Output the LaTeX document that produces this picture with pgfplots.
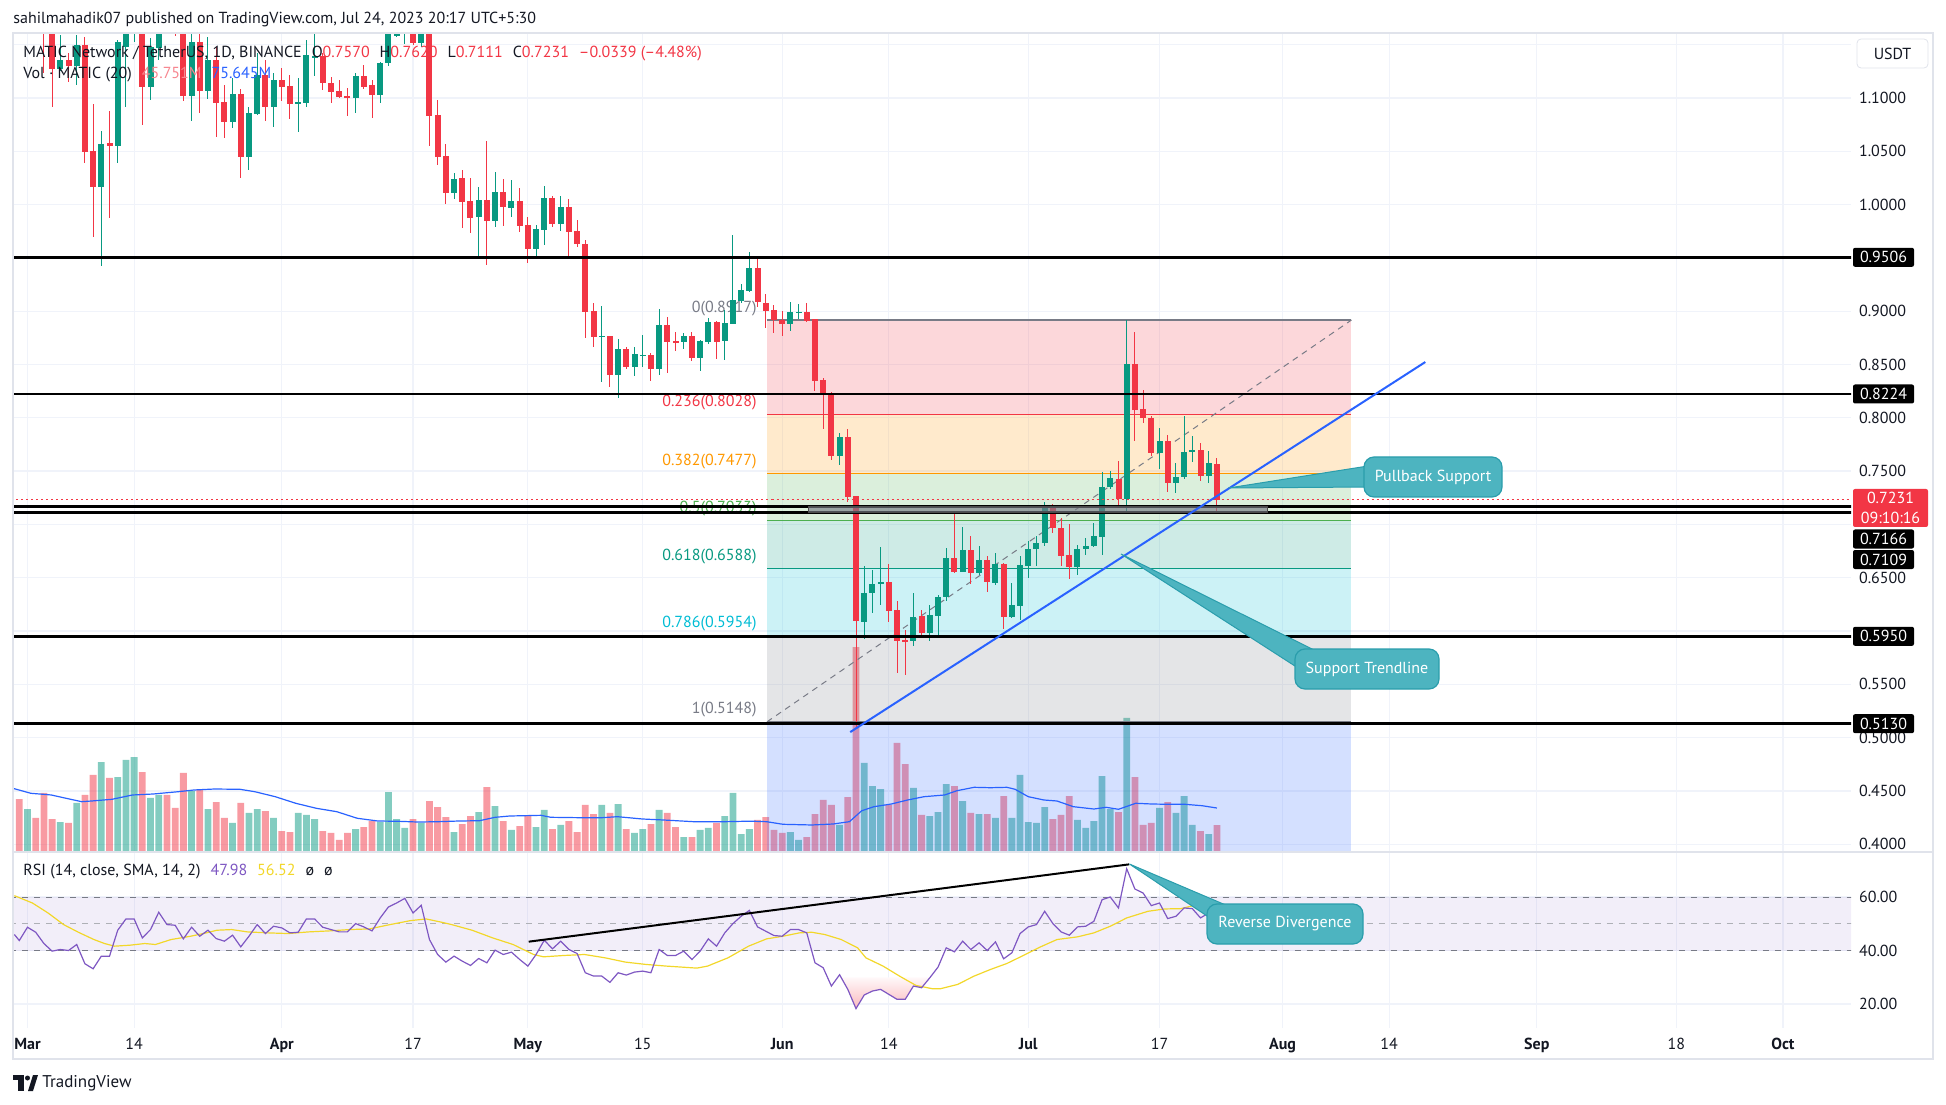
\documentclass[border=0pt]{standalone}
\usepackage{fontspec}
\setmainfont{PT Sans}
\usepackage{pgfplots}
\pgfplotsset{compat=1.18}
\usepackage{pgfplotstable}

\definecolor{upc}{HTML}{089981}
\definecolor{dnc}{HTML}{F23645}
\definecolor{txt}{HTML}{131722}
\definecolor{gridc}{HTML}{F0F3FA}
\definecolor{framec}{HTML}{E0E3EB}
\definecolor{tvblue}{HTML}{2962FF}
\definecolor{fibgray}{HTML}{787B86}
\definecolor{fiborange}{HTML}{FF9800}
\definecolor{fibgreen}{HTML}{4CAF50}
\definecolor{fibcyan}{HTML}{00BCD4}
\definecolor{rsic}{HTML}{7E57C2}
\definecolor{rsima}{HTML}{F2D72A}
\definecolor{callc}{HTML}{4DB4C0}
\definecolor{calld}{HTML}{2A9DAC}

\newcommand\tvf{\fontsize{8}{9.6}\selectfont}

% daily candles, d = days since 1 Mar 2023, v = volume (M)
\pgfplotstableread{
d o h l c v
-1 1.25 1.27 1.21 1.23 91.5
0 1.20 1.24 1.18 1.22 73.9
1 1.22 1.23 1.175 1.19 58.1
2 1.19 1.20 1.1231 1.168 102.1
3 1.172 1.178 1.0918 1.1269 56.3
4 1.1269 1.159 1.125 1.1356 51.0
5 1.1356 1.1419 1.1153 1.1303 49.3
6 1.1303 1.159 1.1122 1.1497 84.5
7 1.1497 1.157 1.0387 1.0496 98.6
8 1.0502 1.0943 0.9699 1.0168 133.8
9 1.0168 1.069 0.9427 1.0568 156.6
10 1.0574 1.0878 0.9871 1.0552 128.5
11 1.0552 1.1544 1.0387 1.1528 130.2
12 1.1481 1.18 1.0918 1.165 160.2
13 1.17 1.20 1.1528 1.19 165.4
14 1.17 1.19 1.0746 1.1106 139.0
15 1.1106 1.156 1.0981 1.1481 93.3
16 1.1472 1.18 1.1356 1.165 98.6
17 1.19 1.20 1.165 1.175 98.6
18 1.19 1.20 1.158 1.17 75.7
19 1.17 1.18 1.0975 1.1022 137.3
20 1.1022 1.165 1.0787 1.1522 105.6
21 1.1528 1.165 1.0862 1.1068 109.1
22 1.1065 1.157 1.099 1.1356 73.9
23 1.1356 1.148 1.063 1.0956 86.2
24 1.0965 1.1122 1.0621 1.0778 58.1
25 1.0778 1.1184 1.0721 1.1037 49.3
26 1.1037 1.1081 1.0252 1.0449 84.5
27 1.0449 1.0918 1.0324 1.0856 66.9
28 1.085 1.1419 1.084 1.1215 73.9
29 1.1215 1.1356 1.0787 1.0918 70.4
30 1.0918 1.1231 1.0731 1.1169 58.1
31 1.1169 1.1278 1.0975 1.1106 35.2
32 1.1112 1.1215 1.0803 1.0943 33.4
33 1.095 1.1187 1.0684 1.0962 66.9
34 1.0956 1.1544 1.0918 1.1403 63.4
35 1.1381 1.165 1.1206 1.1394 56.3
36 1.1394 1.1419 1.1075 1.1137 35.2
37 1.1137 1.1194 1.0956 1.1059 31.7
38 1.1065 1.1169 1.0997 1.1012 19.4
39 1.1018 1.109 1.083 1.1006 31.7
40 1.1003 1.1231 1.0862 1.1206 38.7
41 1.1206 1.1309 1.1081 1.11 42.2
42 1.1122 1.1169 1.0809 1.1028 52.8
43 1.1028 1.134 1.0956 1.1325 51.0
44 1.1325 1.18 1.13 1.165 103.8
45 1.158 1.19 1.157 1.175 56.3
46 1.17 1.19 1.151 1.18 40.5
47 1.175 1.19 1.15 1.152 56.3
48 1.152 1.18 1.148 1.17 49.3
49 1.17 1.18 1.0552 1.0834 88.0
50 1.084 1.0981 1.0371 1.0449 77.4
51 1.0456 1.0568 1.0002 1.0112 59.8
52 1.0112 1.0293 1.0055 1.024 33.4
53 1.0246 1.0324 0.9783 1.0027 47.5
54 1.0033 1.0252 0.973 0.9877 61.6
55 0.9886 1.0168 0.9505 1.0043 68.6
56 1.0043 1.0596 0.9433 0.9849 112.6
57 0.9849 1.0309 0.9793 1.0121 79.2
58 1.0121 1.024 0.9799 0.998 52.8
59 0.9971 1.0231 0.9887 1.0034 37.0
60 1.0034 1.0159 0.9746 0.9799 44.0
61 0.9808 0.9887 0.9455 0.9583 61.6
62 0.9583 0.9808 0.9511 0.9771 42.2
63 0.9762 1.0177 0.9621 1.0065 72.2
64 1.0065 1.0084 0.9793 0.9818 38.7
65 0.9818 1.0084 0.9752 0.998 45.8
66 0.998 1.0052 0.9502 0.9746 52.8
67 0.9752 0.9855 0.9605 0.9627 33.4
68 0.9627 0.9668 0.8745 0.8995 81.0
69 0.9001 0.9074 0.8667 0.8761 65.1
70 0.8761 0.9052 0.8339 0.877 81.0
71 0.877 0.877 0.8292 0.8401 66.9
72 0.8401 0.8739 0.8182 0.8645 82.7
73 0.8645 0.8667 0.846 0.8479 38.7
74 0.8479 0.8667 0.8395 0.8598 31.7
75 0.8583 0.8777 0.8479 0.8589 38.7
76 0.8589 0.8605 0.8348 0.8454 47.5
77 0.8454 0.902 0.8401 0.887 72.2
78 0.887 0.8948 0.8423 0.8714 66.9
79 0.872 0.8808 0.863 0.8711 42.2
80 0.8714 0.8792 0.8645 0.8767 24.6
81 0.8767 0.8802 0.8536 0.8564 24.6
82 0.8564 0.873 0.8442 0.872 37.0
83 0.8714 0.8939 0.8692 0.8902 40.5
84 0.8902 0.8908 0.8551 0.8714 49.3
85 0.872 0.9011 0.8542 0.8886 61.6
86 0.888 0.9715 0.888 0.9105 102.1
87 0.9099 0.9255 0.9074 0.9199 29.9
88 0.9192 0.9558 0.9183 0.9408 38.7
89 0.9408 0.9502 0.9042 0.9083 54.6
90 0.908 0.9162 0.884 0.9005 59.8
91 0.9012 0.9058 0.8793 0.8918 37.0
92 0.8918 0.9002 0.8771 0.8883 31.7
93 0.8883 0.9083 0.8818 0.899 33.4
94 0.8987 0.9068 0.8927 0.8993 19.4
95 0.899 0.9074 0.8902 0.8908 24.6
96 0.8927 0.8927 0.8255 0.8349 65.1
97 0.8355 0.8371 0.7895 0.8224 89.8
98 0.823 0.8239 0.7604 0.7645 81.0
99 0.7645 0.7855 0.7557 0.7817 45.8
100 0.7817 0.7895 0.7213 0.726 95.0
101 0.7267 0.7267 0.5103 0.6097 359.0
102 0.6088 0.6613 0.5922 0.6354 154.9
103 0.6354 0.6572 0.6172 0.6441 114.4
104 0.6438 0.6791 0.6244 0.6457 109.1
105 0.6457 0.6629 0.6088 0.6191 81.0
106 0.6197 0.6282 0.5609 0.591 190.1
107 0.5916 0.601 0.5587 0.59 153.1
108 0.591 0.6354 0.5863 0.6135 110.9
109 0.6144 0.6197 0.5953 0.5978 63.4
110 0.5978 0.6244 0.591 0.615 61.6
111 0.6144 0.6338 0.5931 0.6316 68.6
112 0.6316 0.6776 0.6285 0.6682 117.9
113 0.6682 0.7119 0.6541 0.6557 114.4
114 0.6557 0.6973 0.6557 0.676 88.0
115 0.676 0.6891 0.6441 0.6541 66.9
116 0.6541 0.6801 0.6526 0.6666 65.1
117 0.6666 0.6707 0.6369 0.6457 65.1
118 0.6454 0.6729 0.6432 0.6629 58.1
119 0.6629 0.6641 0.6016 0.6135 96.8
120 0.6135 0.6454 0.6119 0.6244 58.1
121 0.6238 0.6704 0.6103 0.662 133.8
122 0.6613 0.6848 0.6494 0.6766 51.0
123 0.6766 0.6891 0.6613 0.6823 49.3
124 0.6823 0.7213 0.6801 0.7151 77.4
125 0.7151 0.7188 0.6916 0.6963 56.3
126 0.6963 0.7057 0.6613 0.6707 63.4
127 0.6713 0.7004 0.6485 0.6604 96.8
128 0.6604 0.6807 0.6526 0.677 54.6
129 0.6766 0.6876 0.6713 0.6801 40.5
130 0.6801 0.701 0.6791 0.6891 52.8
131 0.6885 0.7489 0.6713 0.7348 132.0
132 0.7348 0.7501 0.7329 0.7432 73.9
133 0.7423 0.7598 0.7151 0.7235 68.6
134 0.7235 0.8918 0.7129 0.8505 234.1
135 0.8505 0.8808 0.7786 0.8073 130.2
136 0.8083 0.8261 0.7955 0.7995 45.8
137 0.8002 0.8017 0.7645 0.7673 49.3
138 0.7673 0.7908 0.7517 0.7783 75.7
139 0.7783 0.7839 0.7307 0.7386 86.2
140 0.7386 0.7579 0.7292 0.7448 66.9
141 0.7442 0.802 0.7426 0.7676 96.8
142 0.7676 0.783 0.7589 0.7698 45.8
143 0.7698 0.7761 0.7407 0.7457 35.2
144 0.7457 0.7689 0.7392 0.7579 29.9
145 0.7570 0.7620 0.7111 0.7231 45.751
}\mat

% volume 20-day average (M)
\pgfplotstableread{
d m
-1.8 110.4
0.4 101.6
2.9 98.6
4.7 92.8
6.6 86.8
7.8 88.0
10.3 91.0
12.8 98.6
15.3 100.3
18.4 104.4
20.3 107.4
22.8 109.1
25.9 108.6
27.7 104.4
30.2 95.6
32.7 84.0
35.2 75.2
37.7 69.2
40.2 57.6
42.7 52.8
45.2 52.3
47.6 51.0
50.1 51.6
52.6 52.8
55.1 53.3
57.0 59.3
58.8 61.6
62.6 62.8
63.8 59.3
67.5 58.6
70.0 58.6
71.9 60.4
75.0 56.3
77.5 54.6
81.2 51.6
85.0 51.6
88.1 52.5
90.1 51.6
92.1 47.0
95.6 45.8
98.2 47.5
100.2 51.6
101.7 70.9
103.2 78.0
105.3 82.7
107.3 89.8
109.3 95.6
111.8 98.6
113.3 106.1
115.4 112.1
117.4 111.4
119.4 112.1
120.4 108.6
122.0 95.6
123.9 89.8
125.5 88.0
127.5 78.0
130.0 73.9
131.5 76.9
133.0 73.4
135.1 84.0
137.1 82.7
139.1 82.2
141.1 82.2
143.2 79.7
145.0 75.645
}\volma

% RSI(14)
\pgfplotstableread{
d r
-1.6 45.97
-1 43.73
0 48.7
1 46.83
2 42.61
3 39.76
4 40.38
5 40.0
6 42.24
7 35.04
8 33.17
9 37.89
10 37.89
11 47.58
12 51.8
13 51.8
14 44.72
15 47.83
16 54.29
17 49.69
18 49.44
19 44.35
20 48.7
21 45.34
22 47.58
23 44.47
24 43.48
25 45.72
26 41.37
27 45.34
28 49.69
29 46.34
30 49.07
31 48.45
32 46.59
33 46.83
34 51.8
35 51.8
36 48.7
37 47.83
38 46.96
39 46.96
40 50.06
41 48.82
42 47.33
43 52.18
44 56.27
45 57.76
46 59.5
47 54.04
48 56.9
49 44.1
50 38.51
51 35.66
52 37.89
53 36.03
54 34.41
55 37.02
56 35.41
57 40.13
58 38.51
59 39.38
60 36.65
61 34.17
62 38.51
63 43.85
64 40.62
65 43.48
66 40.38
67 38.89
68 31.68
69 30.45
70 30.45
71 28.09
72 31.68
73 30.82
74 31.93
75 32.3
76 31.69
77 40.38
78 38.14
79 38.14
80 39.76
81 36.65
82 39.76
83 44.35
84 41.62
85 46.59
86 50.06
87 52.8
88 55.0
89 48.82
90 47.21
91 45.59
92 45.34
93 47.83
94 47.83
95 46.59
96 35.41
97 33.55
98 26.71
99 30.94
100 25.47
101 18.27
102 23.36
103 24.85
104 25.47
105 23.61
106 21.75
107 21.75
108 26.71
109 26.09
110 29.82
111 33.79
112 41.0
113 39.51
114 43.48
115 40.38
116 42.86
117 40.0
118 43.23
119 36.9
120 39.13
121 46.34
122 48.82
123 49.69
124 54.66
125 50.06
126 46.96
127 45.72
128 48.82
129 49.07
130 50.93
131 59.0
132 60.0
133 55.9
134 70.56
135 62.98
136 61.49
137 56.77
138 57.76
139 51.93
140 52.8
141 55.9
142 55.65
143 52.18
144 54.04
145 47.98
}\rsi

% RSI-based moving average
\pgfplotstableread{
d m
-1.6 60.5
0.6 57.76
2.5 54.04
4.4 49.69
6.2 46.83
8.1 44.1
9.4 42.61
10.6 41.62
12.5 41.99
14.3 42.61
15.6 42.24
17.5 44.1
19.9 45.34
21.8 46.59
23.1 47.58
24.9 47.83
26.8 46.96
29.3 46.59
31.8 46.34
34.3 46.96
36.8 47.33
39.3 47.83
41.7 48.08
44.2 49.69
46.7 51.18
48.6 51.8
50.5 50.56
51.7 49.69
54.2 47.58
56.7 44.72
59.2 42.24
61.7 38.51
62.9 37.64
65.4 38.14
67.9 38.51
70.4 37.27
72.9 35.66
75.4 34.79
77.9 34.17
81.6 33.42
82.9 34.17
85.4 37.27
87.9 41.62
90.1 44.35
92.1 45.34
94.1 46.59
95.6 46.83
97.2 45.97
99.2 44.1
101.2 41.0
102.2 37.27
104.3 34.17
106.3 30.44
108.3 26.96
110.3 25.72
111.3 25.72
113.4 27.33
115.4 30.44
117.4 32.92
119.4 35.16
121.4 38.14
123.5 41.37
125.5 44.1
128.0 45.1
130.0 46.59
132.0 49.07
134.0 52.18
136.6 54.66
138.6 55.53
140.6 55.65
142.6 57.14
144.2 57.52
145.0 56.52
}\rsima

\begin{document}
\begin{tikzpicture}
\path[use as bounding box] (0,0) rectangle (973pt,552pt);
\pgfplotsset{chart/.style={scale only axis, width=919.15pt, xmin=-1.804, xmax=222.3, anchor=south west},
  pane/.style={chart, at={(6.35pt,126.5pt)}, height=408.5pt},
  candle/.style={draw=none, mark=none, forget plot}}

% grid and price scale
\begin{axis}[pane, ymin=0.39362, ymax=1.16004,
  axis line style={draw=none}, major tick length=0pt,
  xtick={0,13,31,47,61,75,92,105,122,138,153,166,184,201,214}, xticklabels={},
  ytick={0.4,0.45,0.5,0.55,0.6,0.65,0.7,0.75,0.8,0.85,0.9,0.95,1.0,1.05,1.1,1.15},
  yticklabels={0.4000,0.4500,0.5000,0.5500,{},0.6500,{},0.7500,0.8000,0.8500,0.9000,{},1.0000,1.0500,1.1000,{}},
  yticklabel pos=right, yticklabel style={font=\tvf, text=txt, xshift=0.5pt},
  grid=major, grid style={gridc, line width=0.6pt}]
\addplot[draw=none, mark=none, forget plot] table[x=d, y=c] {\mat};
\end{axis}

% volume
\begin{axis}[pane, ymin=0, ymax=1437.9, hide axis]
\addplot[ybar, bar width=3.4pt, draw=none, fill=upc, fill opacity=0.5,
  restrict expr to domain={\thisrow{c}-\thisrow{o}}{0:10}] table[x=d, y=v] {\mat};
\addplot[ybar, bar width=3.4pt, draw=none, fill=dnc, fill opacity=0.5,
  restrict expr to domain={\thisrow{c}-\thisrow{o}}{-10:-0.00001}] table[x=d, y=v] {\mat};
\addplot[tvblue, line width=0.6pt, mark=none] table[x=d, y=m] {\volma};
\end{axis}

% price
\begin{axis}[pane, ymin=0.39362, ymax=1.16004, hide axis]
% fib retracement zones
\fill[dnc, fill opacity=0.2] (axis cs:90.15,0.8917) rectangle (axis cs:161.4,0.8028);
\fill[fiborange, fill opacity=0.2] (axis cs:90.15,0.8028) rectangle (axis cs:161.4,0.7477);
\fill[fibgreen, fill opacity=0.2] (axis cs:90.15,0.7477) rectangle (axis cs:161.4,0.7033);
\fill[upc, fill opacity=0.2] (axis cs:90.15,0.7033) rectangle (axis cs:161.4,0.6588);
\fill[fibcyan, fill opacity=0.2] (axis cs:90.15,0.6588) rectangle (axis cs:161.4,0.5954);
\fill[fibgray, fill opacity=0.2] (axis cs:90.15,0.5954) rectangle (axis cs:161.4,0.5148);
\fill[tvblue, fill opacity=0.2] (axis cs:90.15,0.5148) rectangle (axis cs:161.4,0.30);
\addplot[fibgray, line width=0.6pt] coordinates {(90.15,0.8917) (161.4,0.8917)};
\addplot[dnc, line width=0.6pt] coordinates {(90.15,0.8028) (161.4,0.8028)};
\addplot[fiborange, line width=0.6pt] coordinates {(90.15,0.7477) (161.4,0.7477)};
\addplot[fibgreen, line width=0.6pt] coordinates {(90.15,0.7033) (161.4,0.7033)};
\addplot[upc, line width=0.6pt] coordinates {(90.15,0.6588) (161.4,0.6588)};
\addplot[fibcyan, line width=0.6pt] coordinates {(90.15,0.5954) (161.4,0.5954)};
\addplot[fibgray, line width=0.6pt] coordinates {(90.15,0.5148) (161.4,0.5148)};
\addplot[fibgray, line width=0.5pt, dash pattern=on 3pt off 2.5pt] coordinates {(90.15,0.5148) (161.4,0.8917)};
\begin{scope}[every node/.style={anchor=south east, inner sep=0pt, font=\tvf, yshift=2pt}]
\node[text=fibgray] at (axis cs:88.93,0.8917) {0(0.8917)};
\node[text=dnc] at (axis cs:88.93,0.8028) {0.236(0.8028)};
\node[text=fiborange] at (axis cs:88.93,0.7477) {0.382(0.7477)};
\node[text=fibgreen] at (axis cs:88.93,0.7033) {0.5(0.7033)};
\node[text=upc] at (axis cs:88.93,0.6588) {0.618(0.6588)};
\node[text=fibcyan] at (axis cs:88.93,0.5954) {0.786(0.5954)};
\node[text=fibgray] at (axis cs:88.93,0.5148) {1(0.5148)};
\end{scope}
% candles: wicks, then bodies
\addplot[candle, restrict expr to domain={\thisrow{c}-\thisrow{o}}{0:10},
  error bars/.cd, y dir=both, y explicit, error mark=none, error bar style={draw=upc, line width=0.5pt}]
  table[x=d, y expr={(\thisrow{h}+\thisrow{l})/2}, y error expr={(\thisrow{h}-\thisrow{l})/2}] {\mat};
\addplot[candle, restrict expr to domain={\thisrow{c}-\thisrow{o}}{-10:-0.00001},
  error bars/.cd, y dir=both, y explicit, error mark=none, error bar style={draw=dnc, line width=0.5pt}]
  table[x=d, y expr={(\thisrow{h}+\thisrow{l})/2}, y error expr={(\thisrow{h}-\thisrow{l})/2}] {\mat};
\addplot[candle, restrict expr to domain={\thisrow{c}-\thisrow{o}}{0:10},
  error bars/.cd, y dir=both, y explicit, error mark=none, error bar style={draw=upc, line width=3pt}]
  table[x=d, y expr={(\thisrow{o}+\thisrow{c})/2}, y error expr={max(abs(\thisrow{c}-\thisrow{o})/2,0.0006)}] {\mat};
\addplot[candle, restrict expr to domain={\thisrow{c}-\thisrow{o}}{-10:-0.00001},
  error bars/.cd, y dir=both, y explicit, error mark=none, error bar style={draw=dnc, line width=3pt}]
  table[x=d, y expr={(\thisrow{o}+\thisrow{c})/2}, y error expr={max(abs(\thisrow{c}-\thisrow{o})/2,0.0006)}] {\mat};
% levels and trendline
\addplot[dnc, line width=0.5pt, dash pattern=on 1pt off 1.5pt] coordinates {(-5,0.7231) (230,0.7231)};
\addplot[black, line width=1.3pt] coordinates {(-5,0.9506) (230,0.9506)};
\addplot[black, line width=1.3pt] coordinates {(-5,0.8224) (230,0.8224)};
\addplot[black, line width=1.3pt] coordinates {(-5,0.7166) (230,0.7166)};
\addplot[black, line width=1.3pt] coordinates {(-5,0.7109) (230,0.7109)};
\addplot[black, line width=1.3pt] coordinates {(-5,0.5950) (230,0.5950)};
\addplot[black, line width=1.3pt] coordinates {(-5,0.5130) (230,0.5130)};
\filldraw[fill=fibgray, fill opacity=0.65, draw=black!70, line width=0.5pt]
  (axis cs:95.15,0.7109) rectangle (axis cs:151.2,0.7166);
\addplot[tvblue, line width=1pt] coordinates {(100.3,0.5052) (170.4,0.8523)};
\end{axis}

% RSI pane
\begin{axis}[chart, at={(6.35pt,38pt)}, height=88pt, ymin=11.03, ymax=76.82,
  axis line style={draw=none}, major tick length=0pt,
  xtick={0,13,31,47,61,75,92,105,122,138,153,166,184,201,214},
  xticklabels={\textbf{Mar},14,\textbf{Apr},17,\textbf{May},15,\textbf{Jun},14,\textbf{Jul},17,\textbf{Aug},14,\textbf{Sep},18,\textbf{Oct}},
  xticklabel style={font=\tvf, text=txt, yshift=-1.5pt},
  ytick={20,40,60}, yticklabels={20.00,40.00,60.00},
  yticklabel pos=right, yticklabel style={font=\tvf, text=txt, xshift=0.5pt},
  grid=major, grid style={gridc, line width=0.6pt}]
\fill[rsic, fill opacity=0.1] (axis cs:-5,40) rectangle (axis cs:230,60);
\addplot[fibgray, line width=0.5pt, dash pattern=on 3pt off 3pt] coordinates {(-5,60) (230,60)};
\addplot[fibgray!60, line width=0.5pt, dash pattern=on 3pt off 3pt] coordinates {(-5,50) (230,50)};
\addplot[fibgray, line width=0.5pt, dash pattern=on 3pt off 3pt] coordinates {(-5,40) (230,40)};
% oversold area below 30
\addplot[draw=none, top color=dnc!3, bottom color=dnc!35] coordinates {(99.17,30) (100,25.47) (101,18.27) (102,23.36) (103,24.85) (104,25.47) (105,23.61) (106,21.75) (107,21.75) (108,26.71) (109,26.09) (110,29.82) (110.05,30)} -- cycle;
\addplot[rsima, line width=0.6pt, mark=none] table[x=d, y=m] {\rsima};
\addplot[rsic, line width=0.6pt, mark=none] table[x=d, y=r] {\rsi};
\addplot[black, line width=1pt] coordinates {(61.1,43.3) (134.3,72.2)};
\end{axis}

% overlay in image pixels
\begin{scope}[x=0.5pt, y=-0.5pt, shift={(0pt,552pt)}]
\draw[framec, line width=1pt] (12.7,33) rectangle (1933,1059);
\draw[framec, line width=1pt] (12.7,851.5) -- (1933,851.5);
\node[anchor=west, inner sep=0pt, font=\tvf, text=txt] at (13,20)
  {sahilmahadik07 published on TradingView.com, Jul 24, 2023 20:17 UTC+5:30};
\node[anchor=west, inner sep=0pt, font=\tvf, text=txt] at (23,54)
  {MATIC Network / TetherUS, 1D, BINANCE\hspace{5pt}O\textcolor{dnc}{0.7570}\hspace{5pt}H\textcolor{dnc}{0.7620}\hspace{5pt}L\textcolor{dnc}{0.7111}\hspace{5pt}C\textcolor{dnc}{0.7231}\hspace{5pt}\textcolor{dnc}{--0.0339 (--4.48\%)}};
\node[anchor=west, inner sep=0pt, font=\tvf, text=txt] at (23,75)
  {Vol · MATIC (20)\hspace{5pt}\textcolor{dnc!60}{45.751M}\hspace{5pt}\textcolor{tvblue}{75.645M}};
\node[anchor=west, inner sep=0pt, font=\tvf, text=txt] at (23,872)
  {RSI (14, close, SMA, 14, 2)\hspace{5pt}\textcolor{rsic}{47.98}\hspace{5pt}\textcolor{rsima}{56.52}\hspace{5pt}ø\hspace{5pt}ø};
% price scale labels
\node[draw=framec, fill=white, rounded corners=2pt, minimum width=35.5pt, minimum height=14.5pt, inner sep=0pt, font=\tvf, text=txt] at (1892.5,53.5) {USDT};
\begin{scope}[every node/.style={fill=black, text=white, font=\tvf, inner sep=0pt, minimum width=30.5pt, minimum height=9.5pt, rounded corners=1pt}]
\node at (1883.5,257.3) {0.9506};
\node at (1883.5,394) {0.8224};
\node at (1883.5,539) {0.7166};
\node at (1883.5,559.5) {0.7109};
\node at (1883.5,636.3) {0.5950};
\node at (1883.5,723.7) {0.5130};
\end{scope}
\node[fill=dnc, text=white, font=\tvf, inner sep=0pt, minimum width=37.5pt, minimum height=19pt, rounded corners=1pt, align=center] at (1890.5,508) {0.7231\\09:10:16};
% callouts
\begin{scope}[every node/.style={text=white, font=\tvf}]
\filldraw[fill=callc, draw=calld, line width=0.5pt] (1228.5,488) -- (1368,466) -- (1368,487) -- cycle;
\filldraw[fill=callc, draw=calld, line width=0.6pt, rounded corners=5pt] (1364,457) rectangle (1502,497);
\node at (1433,477) {Pullback Support};
\filldraw[fill=callc, draw=calld, line width=0.5pt] (1121,554) -- (1318,652) -- (1298,668) -- cycle;
\filldraw[fill=callc, draw=calld, line width=0.6pt, rounded corners=5pt] (1295,649) rectangle (1439,689);
\node at (1367,669) {Support Trendline};
\filldraw[fill=callc, draw=calld, line width=0.5pt] (1129.4,864) -- (1228,906) -- (1210,918) -- cycle;
\filldraw[fill=callc, draw=calld, line width=0.6pt, rounded corners=5pt] (1207,904) rectangle (1363,944);
\node at (1285,924) {Reverse Divergence};
\end{scope}
% TradingView logo
\fill[txt] (13,1075) rectangle (24,1080);
\fill[txt] (18,1080) rectangle (24,1091);
\fill[txt] (27.5,1078) circle (2.5);
\fill[txt] (28,1091) -- (33,1075) -- (38,1075) -- (33,1091) -- cycle;
\node[anchor=west, inner sep=0pt, font=\fontsize{8.5}{10}\selectfont, text=txt] at (42,1083.5) {TradingView};
\end{scope}
\end{tikzpicture}
\end{document}
